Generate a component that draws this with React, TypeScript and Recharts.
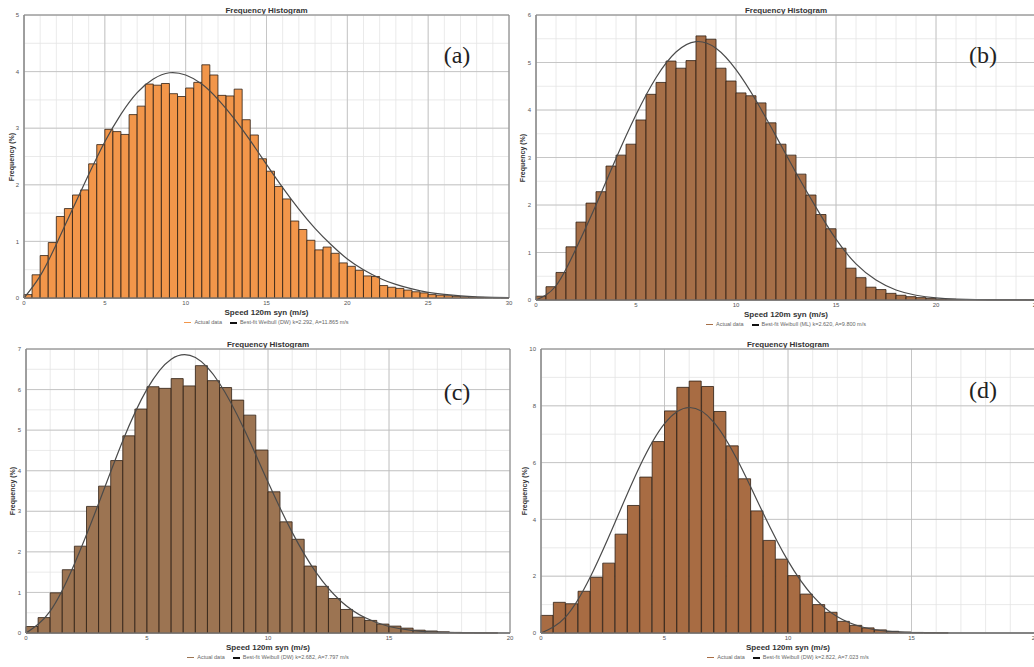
import React from 'react';
import {
  ComposedChart, Bar, Line, XAxis, YAxis, CartesianGrid, ReferenceArea,
} from 'recharts';

// bin width of every histogram (m/s)
const BIN = 0.5;

// (a) frequency per 0.5 m/s bin, 0..30 m/s
const freqA = [
  0.06, 0.41, 0.75, 0.98, 1.44, 1.58, 1.82, 1.91, 2.37, 2.71,
  2.98, 2.94, 2.89, 3.24, 3.39, 3.78, 3.76, 3.79, 3.61, 3.56,
  3.71, 3.81, 4.12, 3.94, 3.58, 3.57, 3.69, 3.15, 2.88, 2.46,
  2.24, 1.97, 1.75, 1.36, 1.21, 1.02, 0.85, 0.9, 0.79, 0.62,
  0.56, 0.49, 0.39, 0.38, 0.22, 0.19, 0.17, 0.14, 0.11, 0.09,
  0.06, 0.05, 0.04, 0.03, 0.02, 0.015, 0.01, 0.008, 0.005, 0.003,
];
// (a) fitted curve read at every 1 m/s
const fitA = [
  0, 0.39, 0.95, 1.57, 2.18, 2.76, 3.25, 3.63, 3.87, 3.98, 3.94, 3.78, 3.51, 3.17, 2.78, 2.36,
  1.95, 1.57, 1.23, 0.94, 0.69, 0.5, 0.35, 0.24, 0.16, 0.1, 0.063, 0.038, 0.022, 0.012, 0.007,
];

// (b) 0..25 m/s
const freqB = [
  0.08, 0.28, 0.58, 1.12, 1.64, 2.04, 2.28, 2.82, 3.05, 3.28,
  3.79, 4.33, 4.58, 5.03, 4.88, 5.04, 5.56, 5.49, 4.88, 4.61,
  4.36, 4.3, 4.15, 3.73, 3.28, 3.05, 2.65, 2.21, 1.8, 1.5,
  1.09, 0.67, 0.47, 0.27, 0.22, 0.14, 0.1, 0.07, 0.05, 0.035,
  0.02, 0.015, 0.01, 0.01, 0.008, 0.006, 0.005, 0.004, 0.003, 0.002,
];
const fitB = [
  0, 0.3, 1.08, 2.0, 2.98, 3.9, 4.68, 5.22, 5.44, 5.3, 4.85, 4.2, 3.45,
  2.68, 1.95, 1.28, 0.76, 0.42, 0.21, 0.1, 0.045, 0.02, 0.008, 0.003, 0.001, 0,
];

// (c) 0..20 m/s
const freqC = [
  0.16, 0.38, 0.99, 1.56, 2.14, 3.12, 3.62, 4.25, 4.86, 5.52,
  6.07, 6.03, 6.27, 6.09, 6.59, 6.22, 6.05, 5.74, 5.37, 4.51,
  3.48, 2.74, 2.31, 1.65, 1.15, 0.85, 0.58, 0.39, 0.31, 0.22,
  0.17, 0.12, 0.07, 0.05, 0.03, 0.015, 0.008, 0.004, 0.002, 0,
];
const fitC = [
  0, 0.54, 1.7, 3.19, 4.74, 6.01, 6.75, 6.79, 6.15, 5.04, 3.72,
  2.48, 1.48, 0.79, 0.38, 0.16, 0.06, 0.02, 0.005, 0, 0,
];

// (d) 0..20 m/s
const freqD = [
  0.62, 1.08, 1.03, 1.47, 1.96, 2.46, 3.48, 4.49, 5.49, 6.74,
  7.82, 8.65, 8.87, 8.68, 7.8, 6.59, 5.43, 4.3, 3.26, 2.6,
  2.02, 1.37, 1.0, 0.73, 0.41, 0.27, 0.18, 0.11, 0.06, 0.035,
  0.02, 0.01, 0.005, 0, 0, 0, 0, 0, 0, 0,
];
const fitD = [
  0, 0.57, 1.98, 3.9, 5.87, 7.37, 7.94, 7.42, 6.01, 4.21, 2.54,
  1.31, 0.57, 0.21, 0.064, 0.015, 0, 0, 0, 0, 0,
];

const xMajorA = [0, 5, 10, 15, 20, 25, 30];
const xMajorB = [0, 5, 10, 15, 20, 25];
const xMajorCD = [0, 5, 10, 15, 20];
const yMajorA = [0, 1, 2, 3, 4, 5];
const yMajorB = [0, 1, 2, 3, 4, 5, 6];
const yMajorC = [0, 1, 2, 3, 4, 5, 6, 7];
const yMajorD = [0, 2, 4, 6, 8, 10];

const panelTags = ['(a)', '(b)', '(c)', '(d)'];
const fitLabels = [
  'Best-fit Weibull (DW) k=2.292, A=11.865 m/s',
  'Best-fit Weibull (ML) k=2.620, A=9.800 m/s',
  'Best-fit Weibull (DW) k=2.682, A=7.797 m/s',
  'Best-fit Weibull (DW) k=2.822, A=7.023 m/s',
];

const Y_W = 20;
const M_T = 6;
const M_R = 8;
const X_H = 12;
const FONT = '"Liberation Sans", Arial, sans-serif';

type Panel = {
  tag: string;
  fitLabel: string;
  freq: number[];
  fit: number[];
  color: string;
  xMax: number;
  yMax: number;
  yMinorStep: number;
  xMajor: number[];
  yMajor: number[];
  left: number;
  top: number;
  w: number;
  h: number;
  yLabelGap: number;
  tagX: number;
  tagY: number;
};

const panels: Panel[] = [
  { tag: panelTags[0], fitLabel: fitLabels[0], freq: freqA, fit: fitA, color: '#F2964A', xMax: 30, yMax: 5, yMinorStep: 0.5, xMajor: xMajorA, yMajor: yMajorA, left: 24, top: 15, w: 485, h: 283, yLabelGap: 12, tagX: 457, tagY: 55 },
  { tag: panelTags[1], fitLabel: fitLabels[1], freq: freqB, fit: fitB, color: '#A66F48', xMax: 25, yMax: 6, yMinorStep: 0.5, xMajor: xMajorB, yMajor: yMajorB, left: 536, top: 15, w: 500, h: 285, yLabelGap: 13, tagX: 983, tagY: 55 },
  { tag: panelTags[2], fitLabel: fitLabels[2], freq: freqC, fit: fitC, color: '#9C7452', xMax: 20, yMax: 7, yMinorStep: 0.5, xMajor: xMajorCD, yMajor: yMajorC, left: 26, top: 349, w: 484, h: 284, yLabelGap: 13, tagX: 457, tagY: 392 },
  { tag: panelTags[3], fitLabel: fitLabels[3], freq: freqD, fit: fitD, color: '#A86C43', xMax: 20, yMax: 10, yMinorStep: 1, xMajor: xMajorCD, yMajor: yMajorD, left: 541, top: 349, w: 494, h: 284, yLabelGap: 16, tagX: 983, tagY: 390 },
];

function Histogram({ p }: { p: Panel }) {
  const bars = p.freq.map((v, i) => ({ bin: i * BIN, v }));
  const curve = p.fit.map((f, i) => ({ x: i, f }));
  const xMinor = Array.from({ length: p.xMax + 1 }, (_, i) => i);
  const yMinor = Array.from({ length: Math.round(p.yMax / p.yMinorStep) + 1 }, (_, i) => i * p.yMinorStep);
  const W = Y_W + p.w + M_R;
  const H = M_T + p.h + X_H;
  const bottom = p.top + p.h;
  const cx = p.left + p.w / 2;

  return (
    <>
      <div style={{ position: 'absolute', left: p.left, top: p.top - 9, width: p.w, textAlign: 'center', fontSize: 8, fontWeight: 'bold', lineHeight: '9px', color: '#333' }}>
        Frequency Histogram
      </div>
      <div style={{ position: 'absolute', left: p.left - Y_W, top: p.top - M_T, width: W, height: H }}>
        <ComposedChart width={W} height={H} data={bars} margin={{ top: M_T, right: M_R, bottom: 0, left: 0 }} barCategoryGap={0} barGap={0}>
          <CartesianGrid xAxisId="speed" stroke="#e4e4e4" strokeWidth={0.8} />
          <CartesianGrid xAxisId="speed" stroke="#bdbdbd" strokeWidth={0.8} verticalValues={p.xMajor} horizontalValues={p.yMajor} />
          <XAxis xAxisId="bins" dataKey="bin" type="category" orientation="top" height={0} hide />
          <XAxis
            xAxisId="speed" dataKey="x" type="number" domain={[0, p.xMax]} ticks={xMinor} interval={0}
            height={X_H} tickLine={false} tickSize={2} tickMargin={1} axisLine={{ stroke: '#888' }}
            tick={{ fontSize: 6, fill: '#555' }}
            tickFormatter={(t: number) => (p.xMajor.includes(t) ? String(t) : '')}
          />
          <YAxis
            type="number" domain={[0, p.yMax]} ticks={yMinor} interval={0} width={Y_W}
            tickLine={false} tickSize={3} tickMargin={2} axisLine={{ stroke: '#888' }}
            tick={{ fontSize: 6, fill: '#555' }}
            tickFormatter={(t: number) => (p.yMajor.includes(t) ? String(t) : '')}
          />
          <Bar xAxisId="bins" dataKey="v" fill={p.color} stroke="#2e2014" strokeWidth={0.8} isAnimationActive={false} />
          <Line xAxisId="speed" data={curve} dataKey="f" type="natural" stroke="#4a4a4a" strokeWidth={1.2} dot={false} activeDot={false} isAnimationActive={false} />
          <ReferenceArea xAxisId="speed" x1={0} x2={p.xMax} y1={0} y2={p.yMax} fill="none" stroke="#8a8a8a" strokeWidth={1} ifOverflow="visible" />
        </ComposedChart>
      </div>
      <div style={{ position: 'absolute', left: p.left - p.yLabelGap - 40, top: p.top + p.h / 2 - 5, width: 80, textAlign: 'center', fontSize: 7, fontWeight: 'bold', lineHeight: '10px', color: '#333', transform: 'rotate(-90deg)' }}>
        Frequency (%)
      </div>
      <div style={{ position: 'absolute', left: p.tagX - 25, top: p.tagY - 14, width: 50, textAlign: 'center', fontFamily: '"Liberation Serif", "Times New Roman", serif', fontSize: 24, lineHeight: '28px', color: '#222' }}>
        {p.tag}
      </div>
      <div style={{ position: 'absolute', left: p.left, top: bottom + 10, width: p.w, textAlign: 'center', fontSize: 8, fontWeight: 'bold', lineHeight: '10px', color: '#333' }}>
        Speed 120m syn (m/s)
      </div>
      <div style={{ position: 'absolute', left: cx - 150, top: bottom + 21, width: 300, display: 'flex', justifyContent: 'center', alignItems: 'center', fontSize: 5.5, lineHeight: '7px', color: '#666' }}>
        <span style={{ display: 'inline-block', width: 7, height: 1.5, background: p.color, marginRight: 3 }} />
        <span>Actual data</span>
        <span style={{ display: 'inline-block', width: 7, height: 2, background: '#111', marginLeft: 8, marginRight: 3 }} />
        <span>{p.fitLabel}</span>
      </div>
    </>
  );
}

export default function App() {
  return (
    <div style={{ position: 'absolute', left: 0, top: 0, width: 1034, height: 667, overflow: 'hidden', background: '#fff', fontFamily: FONT }}>
      {panels.map((p) => (
        <Histogram key={p.tag} p={p} />
      ))}
    </div>
  );
}
